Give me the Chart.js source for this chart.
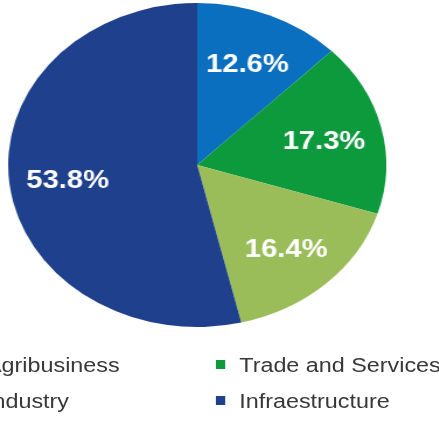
<!DOCTYPE html>
<html>
<head>
<meta charset="utf-8">
<script src="https://cdn.jsdelivr.net/npm/chart.js@4/dist/chart.umd.min.js"></script>
<style>
  html, body { margin: 0; padding: 0; background: #fff; overflow: hidden; }
  body { width: 439px; height: 423px; position: relative; }
  /* the whole figure is drawn round, then widened into an oval */
  #stage { position: absolute; left: 0; top: 0; width: 376px; height: 423px;
           transform: scaleX(1.167); transform-origin: 0 0; }
  #pie { position: absolute; left: 0; top: 0; }
  #legend { position: absolute; left: -32px; top: 347px; display: grid;
            grid-template-columns: 217px 217px;
            font: 20px "Liberation Sans", Arial, sans-serif; color: #383838; }
  .item { height: 36px; line-height: 36px; white-space: nowrap; }
  .swatch { display: inline-block; width: 8px; height: 9px; margin-right: 12px;
            vertical-align: middle; position: relative; top: -2px; }
</style>
</head>
<body>
<div id="stage">
  <canvas id="pie" width="338" height="330"></canvas>
  <div id="legend"></div>
</div>
<script>
// Portfolio split by sector (%)
const sectors = ['Agribusiness', 'Trade and Services', 'Industry', 'Infraestructure'];
const shares = [12.6, 17.3, 16.4, 53.8];
const sectorColors = ['#0b6fc0', '#0c9a3c', '#9bbd59', '#1e408d'];

// White percentage text inside each slice
const sliceLabels = {
  id: 'sliceLabels',
  afterDatasetsDraw(chart) {
    const ctx = chart.ctx;
    const meta = chart.getDatasetMeta(0);
    ctx.save();
    ctx.font = 'bold 25px "Liberation Sans", Arial, sans-serif';
    ctx.fillStyle = '#ffffff';
    ctx.textAlign = 'center';
    ctx.textBaseline = 'middle';
    meta.data.forEach((arc, i) => {
      const p = arc.getProps(['x', 'y', 'startAngle', 'endAngle', 'outerRadius'], true);
      const mid = (p.startAngle + p.endAngle) / 2;
      const r = p.outerRadius * 0.69;
      ctx.fillText(shares[i].toFixed(1) + '%', p.x + Math.cos(mid) * r, p.y + Math.sin(mid) * r + 3);
    });
    ctx.restore();
  }
};

new Chart(document.getElementById('pie'), {
  type: 'pie',
  data: {
    labels: sectors,
    datasets: [{
      data: shares,
      backgroundColor: sectorColors,
      borderWidth: 0
    }]
  },
  options: {
    responsive: false,
    animation: false,
    layout: { padding: 3 },
    plugins: {
      legend: { display: false },
      tooltip: { enabled: false }
    }
  },
  plugins: [sliceLabels]
});

// Two-column legend under the pie
const legend = document.getElementById('legend');
[0, 1, 2, 3].forEach(i => {
  const item = document.createElement('div');
  item.className = 'item';
  const sw = document.createElement('span');
  sw.className = 'swatch';
  sw.style.background = sectorColors[i];
  item.appendChild(sw);
  item.appendChild(document.createTextNode(sectors[i]));
  legend.appendChild(item);
});
</script>
</body>
</html>
